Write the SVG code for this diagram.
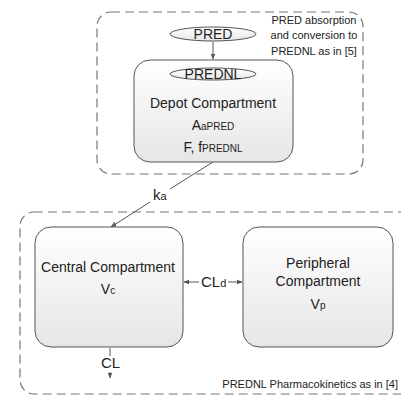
<svg xmlns="http://www.w3.org/2000/svg" width="401" height="400" viewBox="0 0 401 400">
<defs>
<linearGradient id="g" x1="0" y1="0" x2="0" y2="1"><stop offset="0" stop-color="#ffffff"/><stop offset="1" stop-color="#e6e6e6"/></linearGradient>
<marker id="ah" viewBox="0 0 10 10" refX="9" refY="5" markerWidth="6" markerHeight="6" orient="auto-start-reverse"><path d="M0,1 L10,5 L0,9 z" fill="#555"/></marker>
</defs>
<style>
text{font-family:"Liberation Sans",Arial,sans-serif;fill:#222}
.box{fill:url(#g);stroke:#555;stroke-width:1}
.dash{fill:none;stroke:#777;stroke-width:1.2;stroke-dasharray:9,5}
.ln{stroke:#555;stroke-width:1;fill:none}
.m{font-size:14px;text-anchor:middle}
.n{font-size:11px}
</style>
<g id="groups">
<rect class="dash" x="97" y="12" width="266" height="162" rx="14"/>
<rect class="dash" x="20" y="212" width="400" height="182" rx="14"/>
<text class="n" text-anchor="middle" x="314" y="24">PRED absorption</text>
<text class="n" text-anchor="middle" x="314" y="39">and conversion to</text>
<text class="n" text-anchor="middle" x="314" y="55">PREDNL as in [5]</text>
<text class="n" text-anchor="end" x="398" y="388">PREDNL Pharmacokinetics as in [4]</text>
</g>
<g id="connectors">
<line class="ln" x1="213" y1="42" x2="213" y2="59" marker-end="url(#ah)"/>
<polyline class="ln" points="213,162 170,189"/>
<polyline class="ln" points="150,202 111,227" marker-end="url(#ah)"/>
<line class="ln" x1="184" y1="282" x2="199" y2="282" marker-start="url(#ah)"/>
<line class="ln" x1="228" y1="282" x2="242" y2="282" marker-end="url(#ah)"/>
<line class="ln" x1="110" y1="348" x2="110" y2="356"/>
<line class="ln" x1="110" y1="372" x2="110" y2="378" marker-end="url(#ah)"/>
<text x="153" y="200" font-size="15px">k<tspan font-size="11px">a</tspan></text>
<text x="201" y="287" font-size="15px">CL<tspan font-size="11px">d</tspan></text>
<text x="101" y="368" font-size="15px">CL</text>
</g>
<g id="pred">
<ellipse class="box" cx="213" cy="34" rx="43" ry="7"/>
<text class="m" x="213" y="39" font-size="14px">PRED</text>
</g>
<g id="depot">
<rect class="box" x="134" y="60" width="159" height="102" rx="16"/>
<ellipse class="box" cx="213" cy="74" rx="43" ry="6"/>
<text class="m" x="213" y="79">PREDNL</text>
<text class="m" x="213" y="108" font-size="16px">Depot Compartment</text>
<text class="m" x="213" y="130" font-size="15px">A<tspan font-size="10px">aPRED</tspan></text>
<text class="m" x="213" y="152" font-size="15px">F, f<tspan font-size="10px">PREDNL</tspan></text>
</g>
<g id="central">
<rect class="box" x="35" y="227" width="148" height="120" rx="16"/>
<text class="m" x="108" y="272" font-size="13px">Central Compartment</text>
<text class="m" x="108" y="294" font-size="15px">V<tspan font-size="10px">c</tspan></text>
</g>
<g id="peripheral">
<rect class="box" x="243" y="227" width="150" height="120" rx="16"/>
<text class="m" x="318" y="268" font-size="13px">Peripheral</text>
<text class="m" x="318" y="286" font-size="13px">Compartment</text>
<text class="m" x="318" y="309" font-size="15px">V<tspan font-size="10px">p</tspan></text>
</g>
</svg>
